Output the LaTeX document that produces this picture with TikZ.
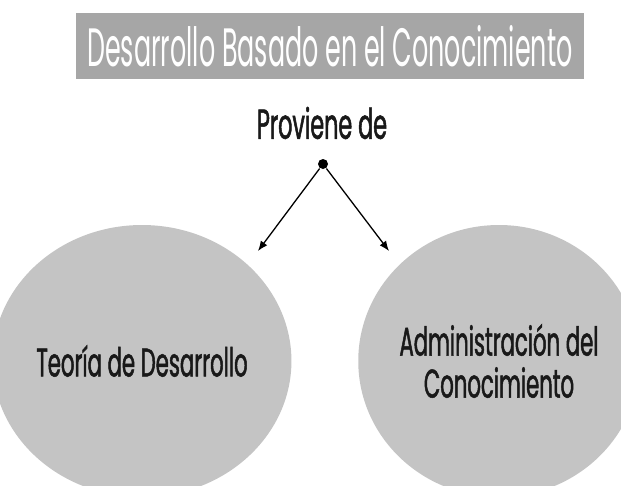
\documentclass[tikz,border=0pt]{standalone}
\usepackage{fontspec}
\newfontfamily\titlefont{Poppins}[FakeStretch=0.47]
\newfontfamily\condfont{Poppins}[FakeStretch=0.53,FakeBold=1.2]
\usetikzlibrary{shapes.geometric,arrows.meta}
\definecolor{boxgray}{RGB}{166,166,166}
\definecolor{blobgray}{RGB}{196,196,196}
\begin{document}
\begin{tikzpicture}[x=1pt, y=-1pt, line width=1.3pt,
  title node/.style={rectangle,fill=boxgray,text=white,minimum width=508pt,minimum height=66pt,inner sep=0pt,font=\titlefont\fontsize{54}{60}\selectfont},
  label node/.style={font=\condfont\fontsize{42}{44}\selectfont,text=black!90},
  main node/.style={ellipse,fill=blobgray,minimum width=266pt,minimum height=272pt,inner sep=0pt,align=center,font=\condfont\fontsize{40}{42}\selectfont,text=black!90},
  dot node/.style={circle,fill=black,minimum size=10pt,inner sep=0pt},
  arrow/.style={-{Latex[length=10pt,width=8pt]}}]
\useasboundingbox (0,0) rectangle (621,485);
\clip (0,0) rectangle (621,485);
\begin{scope}
\node[title node] (title) at (330,46) {Desarrollo Basado en el Conocimiento};
\node[label node] (prov) at (322,123) {Proviene de};
\node[dot node] (dot) at (323,164) {};
\coordinate (tipL) at (258,251);
\coordinate (tipR) at (389,251);
\node[main node] (teoria) at (142,361) {Teoría de Desarrollo};
\node[main node] (admin) at (499,361) {Administración del\\Conocimiento};
\end{scope}
\begin{scope}
\draw[arrow] (dot) -- (tipL);
\draw[arrow] (dot) -- (tipR);
\end{scope}
\end{tikzpicture}
\end{document}
